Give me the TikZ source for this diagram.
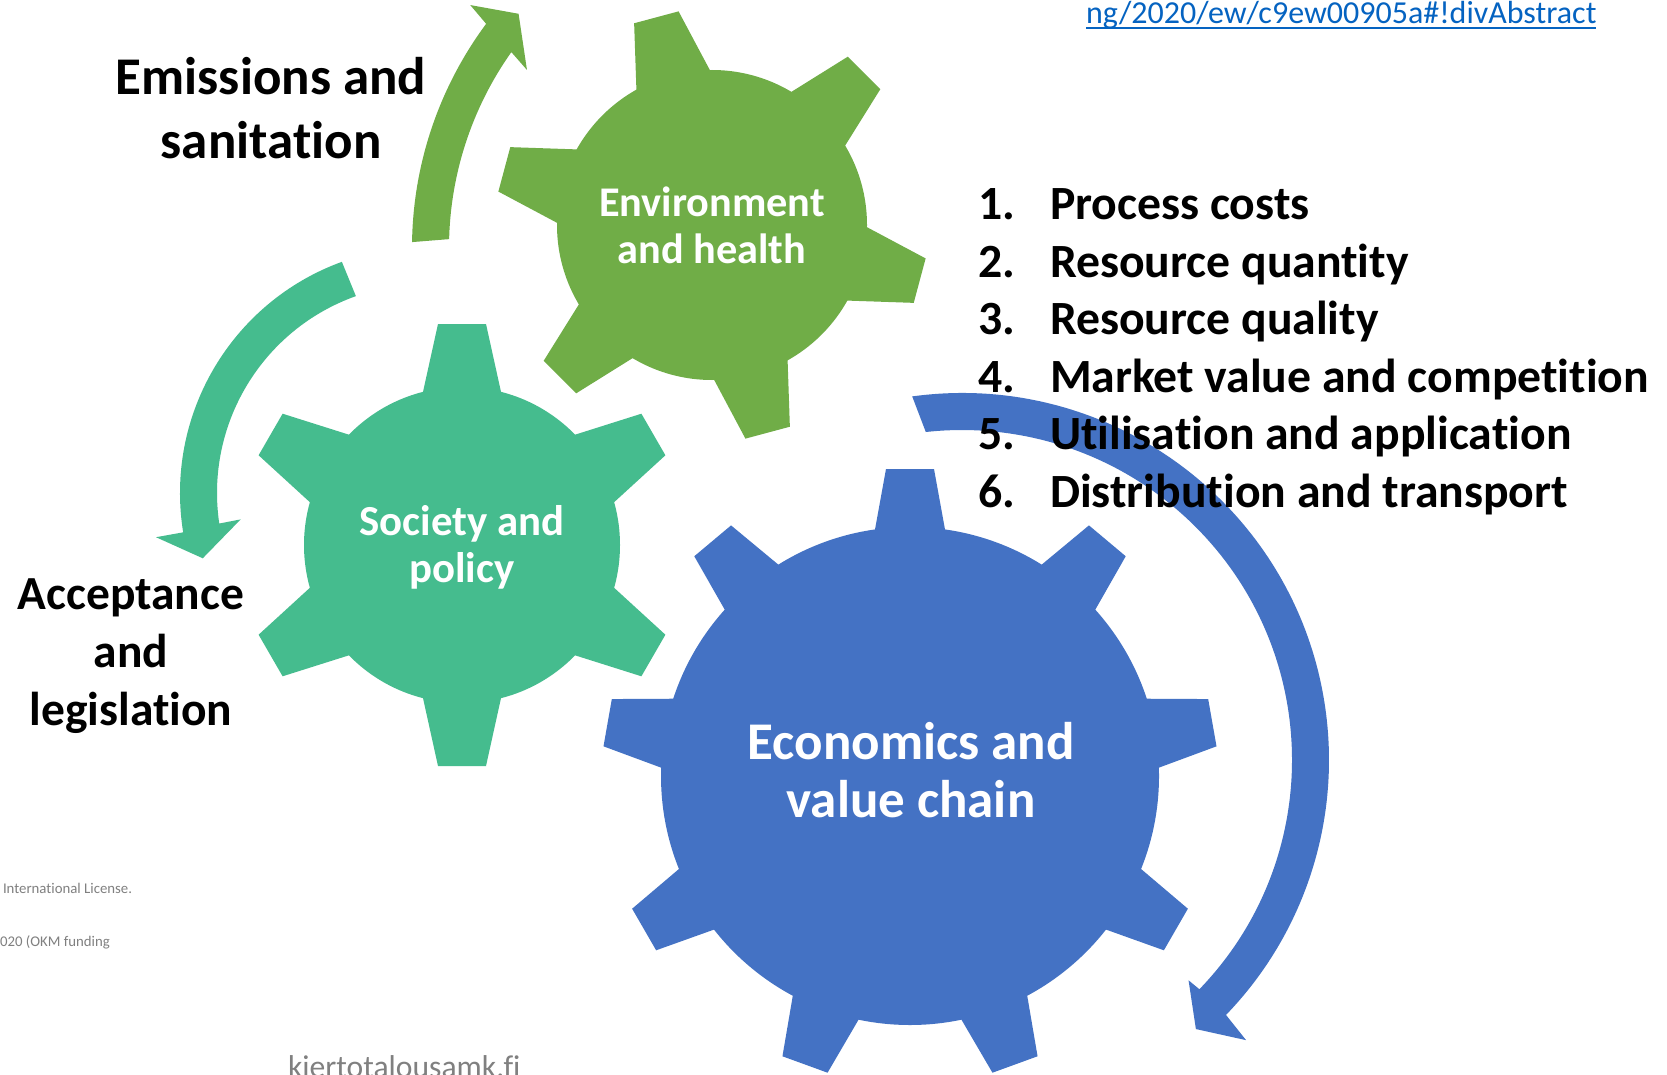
\documentclass[tikz,border=0pt]{standalone}
\usepackage{fontspec}
\setmainfont{Carlito}[Ligatures=NoCommon]
\definecolor{cogGreen}{HTML}{70AD47}
\definecolor{cogTeal}{HTML}{45BC8E}
\definecolor{cogBlue}{HTML}{4472C4}
\definecolor{linkBlue}{HTML}{0563C1}
\definecolor{noteGray}{HTML}{808080}
% #1 colour, #2 centre, #3 body radius, #4 tip radius,
% #5 half width at the root, #6 half width at the tip, #7 tooth angles
\newcommand{\drawcog}[7]{%
  \begin{scope}[shift={#2}]
    \pgfmathsetmacro{\cogrb}{#3*sqrt(1-(#5/#3)^2)}
    \fill[#1] (0,0) circle[radius=#3];
    \foreach \a in {#7}{
      \fill[#1, rotate=\a] (0,-#5) -- (\cogrb,-#5) -- (#4,-#6) -- (#4,#6)
        -- (\cogrb,#5) -- (0,#5) -- cycle;
    }
  \end{scope}}
\begin{document}
\begin{tikzpicture}[x=1pt, y=-1pt,
  every node/.style={inner sep=0pt, outer sep=0pt},
  cogtext/.style={text=white, align=center},
  sidetext/.style={text=black, align=center},
  listtext/.style={text=black, anchor=base west, font=\fontsize{47.7}{57}\selectfont\bfseries}]
\useasboundingbox (0,0) rectangle (1667,1075);
\clip (0,0) rectangle (1667,1075);
\fill[white] (0,0) rectangle (1667,1075);

% curved arrows
\begin{scope}[shift={(788,248)}]
  \fill[cogGreen] (180.9:376) arc[start angle=180.9, end angle=216.6, radius=376]
    -- (217.4:400) -- (221:357) -- (214.3:316) -- (215.3:339)
    arc[start angle=215.3, end angle=181.5, radius=339] -- cycle;
\end{scope}
\begin{scope}[shift={(426,493)}]
  \fill[cogTeal] (250:246) arc[start angle=250, end angle=170.8, radius=246]
    -- (170.7:273.6) -- (163.7:232.6) -- (171.9:187.2) -- (171.6:209)
    arc[start angle=171.6, end angle=250.4, radius=209] -- cycle;
\end{scope}
\begin{scope}[shift={(962,760)}]
  \fill[cogBlue] (-97.8:367) arc[start angle=-97.8, end angle=44, radius=367]
    -- (44.6:399) -- (49:356.5) -- (44.2:316) -- (44:330)
    arc[start angle=44, end angle=-96.3, radius=330] -- cycle;
\end{scope}

% gears
\drawcog{cogGreen}{(712,225)}{155}{215}{38}{23}{105,165,225,285,345,45}
\drawcog{cogTeal}{(462,545)}{158}{221}{39}{24}{90,150,210,270,330,30}
\drawcog{cogBlue}{(910,776)}{249}{307}{35}{24}{90,130,170,210,250,290,330,10,50}

% gear labels
\node[cogtext, font=\fontsize{42.3}{47}\selectfont\bfseries] (env) at (712,225) {Environment\\and health};
\node[cogtext, font=\fontsize{42.8}{47}\selectfont\bfseries] (soc) at (462,547) {Society and\\policy};
\node[cogtext, font=\fontsize{53}{58.5}\selectfont\bfseries] (eco) at (911,770) {Economics and\\value chain};

% side labels
\node[sidetext, font=\fontsize{53}{64}\selectfont\bfseries] (emis) at (271,108) {Emissions and\\sanitation};
\node[sidetext, font=\fontsize{47.5}{58}\selectfont\bfseries] (acc) at (131,656) {Acceptance\\and\\legislation};

% numbered list
\foreach \t [count=\i] in {Process costs, Resource quantity, Resource quality,
    Market value and competition, Utilisation and application, Distribution and transport}{
  \node[listtext] (num\i) at (978,{220+(\i-1)*57.4}) {\i.};
  \node[listtext] (item\i) at (1050,{220+(\i-1)*57.4}) {\t};
}

% link and footer notes
\node[anchor=base west, text=linkBlue, font=\fontsize{32}{38}\selectfont] (link) at (1086,24) {ng/2020/ew/c9ew00905a\#!divAbstract};
\draw[linkBlue, line width=1.7pt] ([yshift=-4pt]link.base west) -- ([yshift=-4pt]link.base east);
\node[anchor=base west, text=noteGray, font=\fontsize{14.8}{17}\selectfont] (lic) at (3,893) {International License.};
\node[anchor=base west, text=noteGray, font=\fontsize{14.8}{17}\selectfont] (fund) at (0,946) {020 (OKM funding};
\node[anchor=base west, text=noteGray, font=\fontsize{31.6}{38}\selectfont] (site) at (288,1077) {kiertotalousamk.fi};
\end{tikzpicture}
\end{document}
